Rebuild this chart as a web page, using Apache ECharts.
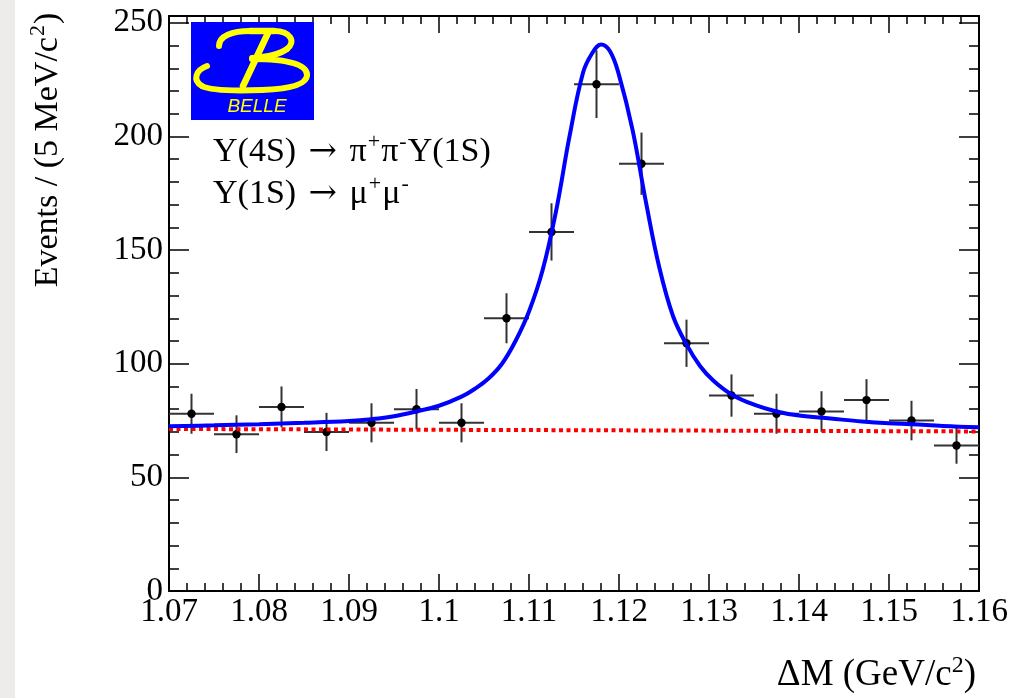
<!DOCTYPE html>
<html>
<head>
<meta charset="utf-8">
<script src="https://cdn.jsdelivr.net/npm/echarts@6/dist/echarts.min.js"></script>
<style>
html,body{margin:0;padding:0;background:#fff;}
#main{width:1026px;height:698px;}
</style>
</head>
<body>
<div id="main"></div>
<script>
// ---- data ----
const binCenters = [1.0725,1.0775,1.0825,1.0875,1.0925,1.0975,1.1025,1.1075,1.1125,1.1175,1.1225,1.1275,1.1325,1.1375,1.1425,1.1475,1.1525,1.1575];
const counts     = [78,69,81,70,74,80,74,120,158,223,188,109,86,78,79,84,75,64];
const errors     = [8.8,8.3,9.0,8.4,8.6,8.9,8.6,11.0,12.6,14.9,13.7,10.4,9.3,8.8,8.9,9.2,8.7,8.0];
const binHalfWidth = 0.0025;

const fitX = [1.070,1.075,1.080,1.085,1.090,1.0925,1.095,1.0975,1.100,1.1025,1.104,1.1055,1.107,1.1085,1.110,1.1115,1.113,1.1145,1.116,1.117,1.118,1.119,1.120,1.1215,1.123,1.1245,1.126,1.1275,1.129,1.1305,1.1325,1.135,1.1375,1.140,1.1435,1.147,1.150,1.1525,1.156,1.160];
const fitY = [72.5,72.9,73.4,74.0,74.8,75.6,76.9,79.0,81.5,85.5,89.0,93.5,100,110,123,141,167,200,228,236.5,240.5,237.5,227,203,171,142,121,108.5,99,92.5,86.5,82,79,77.2,75.9,74.6,73.8,73.4,72.6,72.0];

const bkgX = [1.07, 1.16];
const bkgY = [71.3, 70.2];

const yMajorTicks = [0,50,100,150,200,250];
const yMinorTicks = [10,20,30,40,60,70,80,90,110,120,130,140,160,170,180,190,210,220,230,240];

const xMin = 1.07, xMax = 1.16, xStep = 0.01;
const yMin = 0, yMax = 253;

const FONT = 'Liberation Serif';

// ---- chart ----
const chart = echarts.init(document.getElementById('main'), null, {renderer:'canvas'});

const grid = {left:169, right:47, top:16, bottom:107};

function xAx(pos, labels){
  return {
    type:'value', position:pos, min:xMin, max:xMax, interval:xStep,
    axisLine:{show:true, onZero:false, lineStyle:{color:'#000', width:2}},
    axisTick:{show:true, inside:true, length:17, lineStyle:{color:'#000', width:1.5}},
    minorTick:{show:true, splitNumber:5, length:8, lineStyle:{color:'#000', width:1.5}},
    splitLine:{show:false}, minorSplitLine:{show:false},
    axisLabel:{show:labels, margin:5, color:'#000', fontFamily:FONT, fontSize:33,
      formatter: v => String(+v.toFixed(2))}
  };
}
function yAx(pos, ticks, len, labels, line){
  return {
    type:'value', position:pos, min:yMin, max:yMax,
    axisLine:{show:line, onZero:false, lineStyle:{color:'#000', width:2}},
    axisTick:{show:true, inside:true, length:len, customValues:ticks, lineStyle:{color:'#000', width:1.5}},
    splitLine:{show:false},
    axisLabel:{show:labels, customValues:ticks, margin:6, color:'#000', fontFamily:FONT, fontSize:33}
  };
}

const points = binCenters.map((x,i)=>[x, counts[i], errors[i]]);

const Y = '#ffff00';
function bz(x1,y1,c1x,c1y,c2x,c2y,x2,y2){
  return {type:'bezierCurve', z:21, shape:{x1:x1,y1:y1,cpx1:c1x,cpy1:c1y,cpx2:c2x,cpy2:c2y,x2:x2,y2:y2},
    style:{fill:null, stroke:Y, lineWidth:6, lineCap:'round'}};
}
function ln(x1,y1,x2,y2){
  return {type:'line', z:21, shape:{x1:x1,y1:y1,x2:x2,y2:y2}, style:{stroke:Y, lineWidth:6.5, lineCap:'round'}};
}
const richBase = {
  n:{fontFamily:FONT, fontSize:34, fill:'#000', lineHeight:38, verticalAlign:'bottom'},
  a:{fontFamily:'DejaVu Serif', fontSize:34, fill:'#000', lineHeight:38, verticalAlign:'bottom', padding:[0,4,0,4]},
  s:{fontFamily:FONT, fontSize:22, fill:'#000', lineHeight:38, verticalAlign:'top', padding:[0,1,0,1]}
};
const richX = {
  n:{fontFamily:FONT, fontSize:37, fill:'#000', lineHeight:40, verticalAlign:'bottom'},
  s:{fontFamily:FONT, fontSize:24, fill:'#000', lineHeight:40, verticalAlign:'top'}
};

const option = {
  animation:false,
  backgroundColor:'#ffffff',
  grid: grid,
  xAxis:[ xAx('bottom', true), xAx('top', false) ],
  yAxis:[
    yAx('left', yMajorTicks, 20, true, true),
    yAx('left', yMinorTicks, 10, false, false),
    yAx('right', yMajorTicks, 20, false, true),
    yAx('right', yMinorTicks, 10, false, false)
  ],
  series:[
    {
      type:'custom', xAxisIndex:0, yAxisIndex:0, z:2,
      data: points,
      renderItem: function(params, api){
        const x = api.value(0), y = api.value(1), e = api.value(2);
        const c = api.coord([x,y]);
        const t = api.coord([x,y+e]);
        const b = api.coord([x,y-e]);
        const l = api.coord([x-binHalfWidth,y]);
        const r = api.coord([x+binHalfWidth,y]);
        const ls = {stroke:'#333', lineWidth:2};
        return {type:'group', children:[
          {type:'line', shape:{x1:t[0],y1:t[1],x2:b[0],y2:b[1]}, style:ls},
          {type:'line', shape:{x1:l[0],y1:l[1],x2:r[0],y2:r[1]}, style:ls},
          {type:'circle', shape:{cx:c[0],cy:c[1],r:4.2}, style:{fill:'#000'}}
        ]};
      }
    },
    {
      type:'line', xAxisIndex:0, yAxisIndex:0, z:3,
      data: bkgX.map((x,i)=>[x,bkgY[i]]),
      showSymbol:false, symbol:'none',
      lineStyle:{color:'#ff0000', width:4, type:[4,3.5], cap:'butt'}
    },
    {
      type:'line', xAxisIndex:0, yAxisIndex:0, z:4,
      data: fitX.map((x,i)=>[x,fitY[i]]),
      showSymbol:false, symbol:'none', smooth:0.4,
      lineStyle:{color:'#0000ff', width:4}
    }
  ],
  graphic:[
    {type:'rect', left:0, top:0, z:0, shape:{width:15,height:698}, style:{fill:'#eeecea'}},
    // axis titles
    {type:'text', x:46, y:150, rotation:Math.PI/2, z:10,
      style:{text:'{n|Events / (5 MeV/c}{s|2}{n|)}', align:'center', verticalAlign:'middle', rich:richBase}},
    {type:'text', x:976, y:674, z:10,
      style:{text:'{n|ΔM (GeV/c}{s|2}{n|)}', align:'right', verticalAlign:'middle', rich:richX}},
    // annotation
    {type:'text', x:213, y:150, z:10,
      style:{text:'{n|Υ(4S) }{a|→}{n| π}{s|+}{n|π}{s|-}{n|Υ(1S)}', align:'left', verticalAlign:'middle', rich:richBase}},
    {type:'text', x:213, y:192, z:10,
      style:{text:'{n|Υ(1S) }{a|→}{n| μ}{s|+}{n|μ}{s|-}', align:'left', verticalAlign:'middle', rich:richBase}},
    // Belle logo
    {type:'rect', z:20, shape:{x:191,y:22,width:123,height:98}, style:{fill:'#0000ff'}},
    bz(219,46, 219,36, 232,31, 250,31),
    ln(250,31, 274,31),
    bz(274,31, 291,31, 296,42, 287,49),
    bz(287,49, 279,55, 266,57, 252,58),
    ln(268,33, 243,86),
    bz(207,66, 196,70, 192,80, 202,86),
    bz(202,86, 211,91, 235,91, 262,90),
    bz(262,90, 288,89, 307,85, 307,75),
    bz(307,75, 307,65, 290,59, 252,59),
    {type:'text', z:21, x:257, y:107,
      style:{text:'BELLE', fontFamily:'Liberation Sans', fontStyle:'italic', fontSize:19, fill:Y, align:'center', verticalAlign:'middle'}}
  ]
};
chart.setOption(option);
</script>
</body>
</html>
